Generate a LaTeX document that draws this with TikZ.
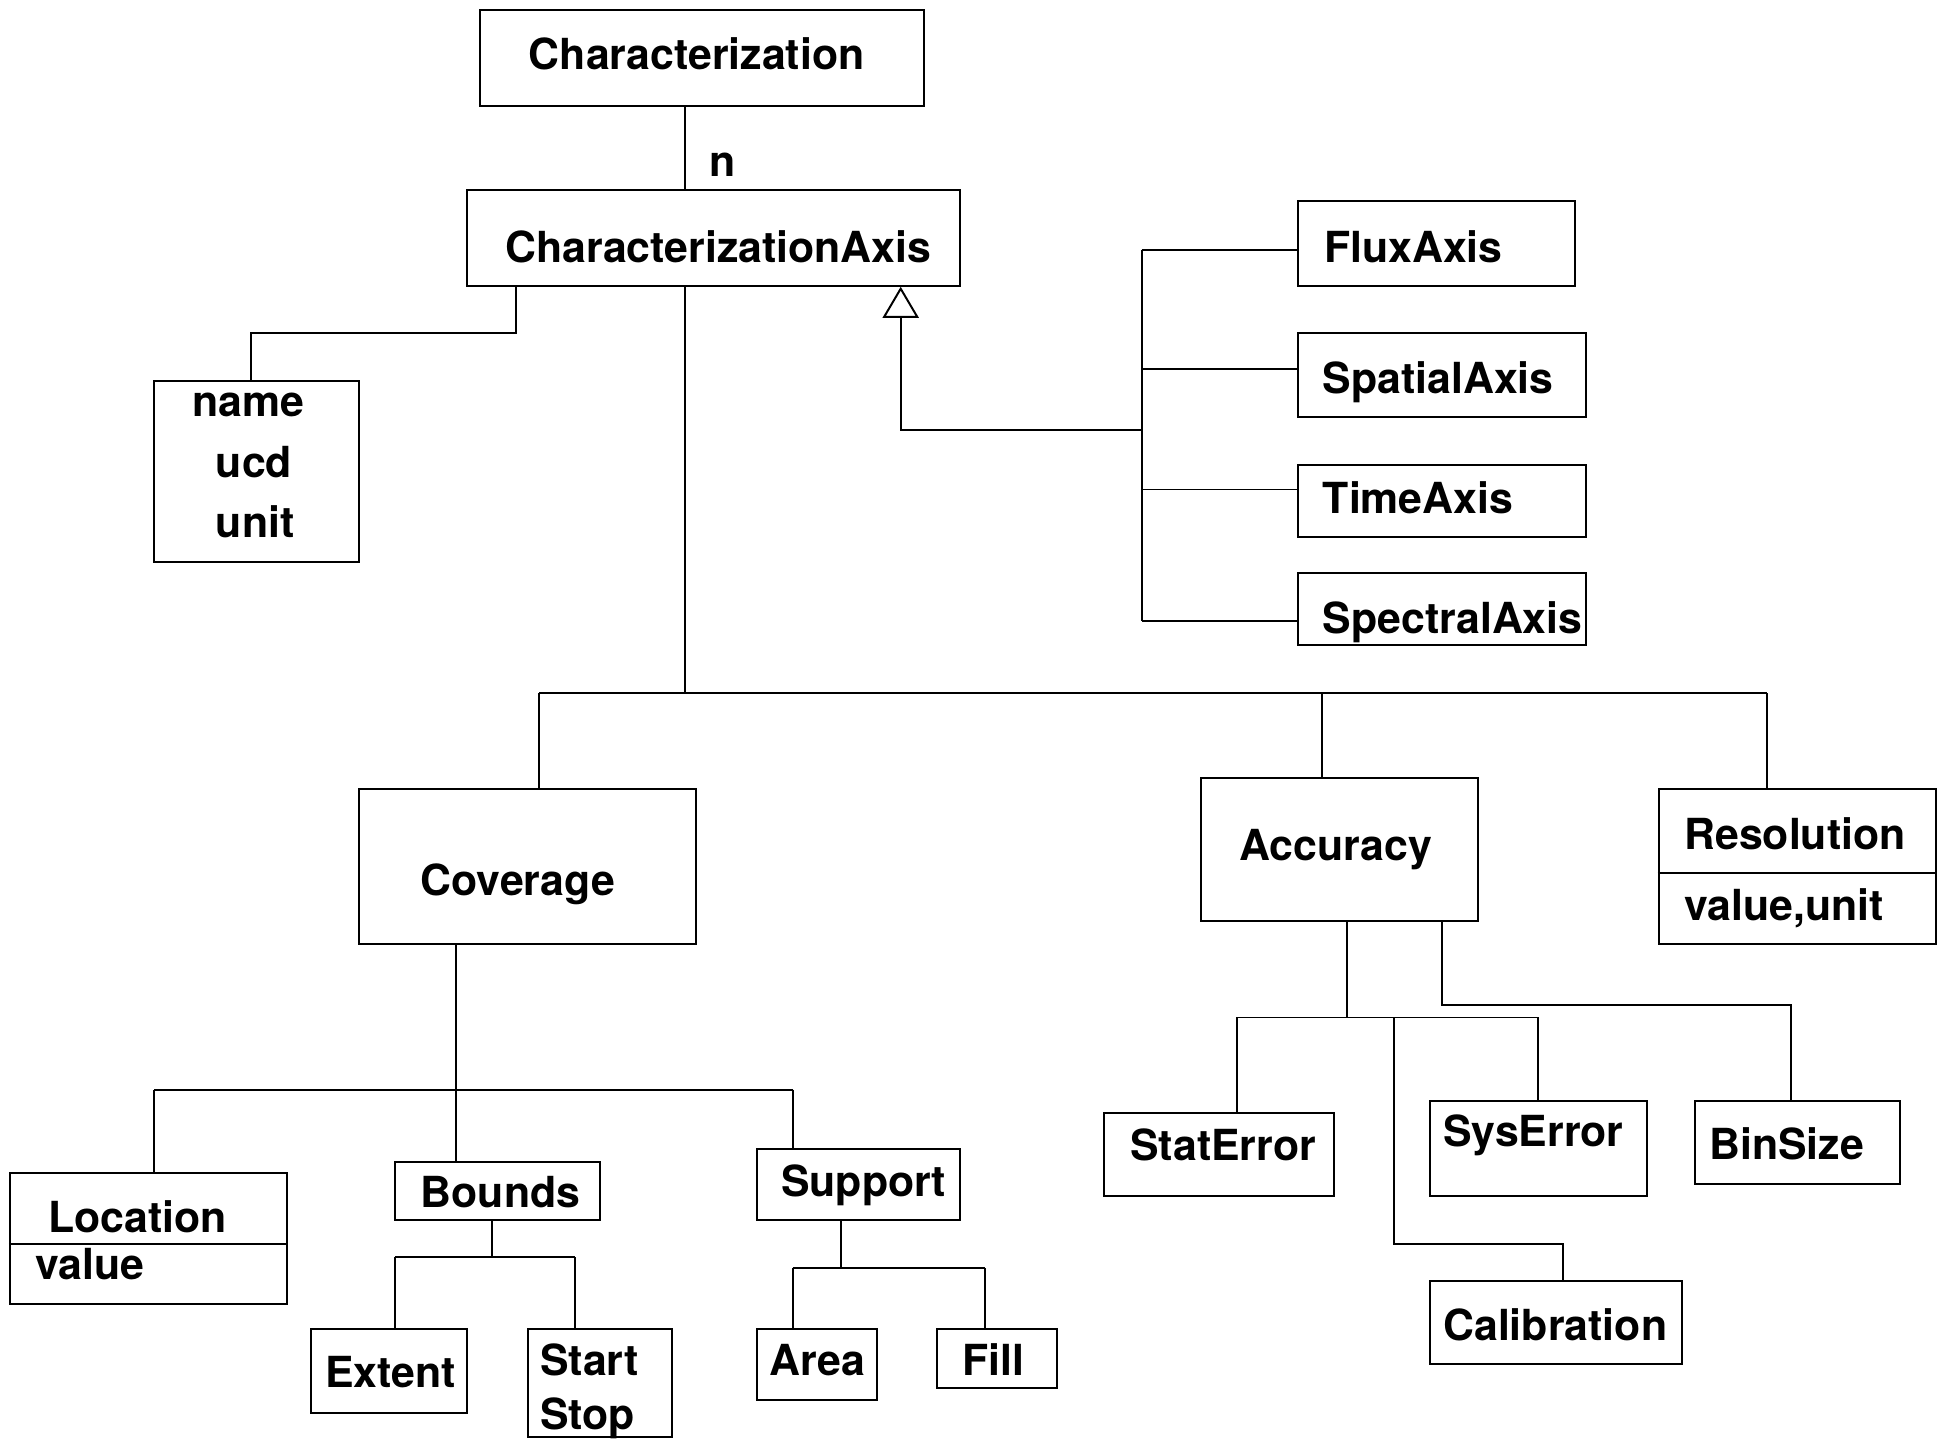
\documentclass[tikz,border=0pt]{standalone}
\usepackage{fontspec}
\setmainfont{TeX Gyre Heros}
\usetikzlibrary{fit,arrows.meta}

\tikzset{
  box/.style={draw, line width=0.45pt, inner sep=0pt},
  lbl/.style={inner sep=0pt, anchor=base west, font=\bfseries\fontsize{9.8}{12}\selectfont},
  inherit/.style={-{Triangle[open,width=2.9mm,length=2.5mm]}}
}

\begin{document}
\begin{tikzpicture}[x=0.01cm,y=-0.01cm,line width=0.45pt]
      \useasboundingbox (0,0) rectangle (1568,1160);

      % Draw the classes
      \node[box, fit={(386,8) (744,85)}] (char) {};
      \node[box, fit={(376,153) (773,230)}] (axis) {};
      \node[box, fit={(124,307) (289,452)}] (attr) {};
      \node[box, fit={(1045,162) (1268,230)}] (flux) {};
      \node[box, fit={(1045,268) (1277,336)}] (spatial) {};
      \node[box, fit={(1045,374) (1277,432)}] (time) {};
      \node[box, fit={(1045,461) (1277,519)}] (spectral) {};
      \node[box, fit={(289,635) (560,760)}] (cov) {};
      \node[box, fit={(967,626) (1190,741)}] (acc) {};
      \node[box, fit={(1335,635) (1558,760)}] (res) {};
      \node[box, fit={(8,944) (231,1050)}] (loc) {};
      \node[box, fit={(318,935) (483,982)}] (bnd) {};
      \node[box, fit={(609,925) (773,982)}] (sup) {};
      \node[box, fit={(250,1070) (376,1137)}] (ext) {};
      \node[box, fit={(425,1070) (541,1157)}] (ss) {};
      \node[box, fit={(609,1070) (706,1127)}] (area) {};
      \node[box, fit={(754,1070) (851,1117)}] (fill) {};
      \node[box, fit={(889,896) (1074,963)}] (stat) {};
      \node[box, fit={(1151,886) (1326,963)}] (sys) {};
      \node[box, fit={(1364,886) (1529,953)}] (bin) {};
      \node[box, fit={(1151,1031) (1354,1098)}] (cal) {};

      % Draw the compartment lines
      \coordinate (locdiv) at (0,1001);
      \coordinate (resdiv) at (0,703);
      \draw (loc.west |- locdiv) -- (loc.east |- locdiv);
      \draw (res.west |- resdiv) -- (res.east |- resdiv);

      % Write the names
      \node[lbl] (charL) at (425,56) {Characterization};
      \node[lbl] (multL) at (570,142) {n};
      \node[lbl] (axisL) at (406,211) {CharacterizationAxis};
      \node[lbl] (nameL) at (154,335) {name};
      \node[lbl] (ucdL) at (173,384) {ucd};
      \node[lbl] (unitL) at (173,433) {unit};
      \node[lbl] (fluxL) at (1065,211) {FluxAxis};
      \node[lbl] (spatialL) at (1064,317) {SpatialAxis};
      \node[lbl] (timeL) at (1064,413) {TimeAxis};
      \node[lbl] (spectralL) at (1064,510) {SpectralAxis};
      \node[lbl] (covL) at (338,721) {Coverage};
      \node[lbl] (accL) at (997,693) {Accuracy};
      \node[lbl] (resL) at (1355,684) {Resolution};
      \node[lbl] (resvalL) at (1355,741) {value,unit};
      \node[lbl] (locL) at (38,992) {Location};
      \node[lbl] (locvalL) at (28,1030) {value};
      \node[lbl] (bndL) at (338,972) {Bounds};
      \node[lbl] (supL) at (628,963) {Support};
      \node[lbl] (extL) at (261,1117) {Extent};
      \node[lbl] (startL) at (434,1107) {Start};
      \node[lbl] (stopL) at (434,1151) {Stop};
      \node[lbl] (areaL) at (619,1107) {Area};
      \node[lbl] (fillL) at (774,1107) {Fill};
      \node[lbl] (statL) at (909,934) {StatError};
      \node[lbl] (sysL) at (1161,923) {SysError};
      \node[lbl] (binL) at (1375,933) {BinSize};
      \node[lbl] (calL) at (1161,1079) {Calibration};

      % Bend points of the connectors
      \coordinate (mainbus) at (551,558);
      \coordinate (covbus) at (434,558);
      \coordinate (accbus) at (1064,558);
      \coordinate (resbus) at (1422,558);
      \coordinate (attA) at (415,268);
      \coordinate (attB) at (202,268);
      \coordinate (genx) at (725,346);
      \coordinate (genbus) at (919,346);
      \coordinate (fluxb) at (919,201);
      \coordinate (spatialb) at (919,297);
      \coordinate (timeb) at (919,394);
      \coordinate (spectralb) at (919,500);
      \coordinate (covjoin) at (367,877);
      \coordinate (locb) at (124,877);
      \coordinate (supb) at (638,877);
      \coordinate (bndjoin) at (396,1012);
      \coordinate (extb) at (318,1012);
      \coordinate (ssb) at (463,1012);
      \coordinate (supjoin) at (677,1021);
      \coordinate (areab) at (638,1021);
      \coordinate (fillb) at (793,1021);
      \coordinate (accjoin) at (1084,819);
      \coordinate (statb) at (996,819);
      \coordinate (sysb) at (1238,819);
      \coordinate (calA) at (1122,819);
      \coordinate (calB) at (1122,1001);
      \coordinate (calC) at (1258,1001);
      \coordinate (binA) at (1161,809);
      \coordinate (binB) at (1442,809);

      % Draw the top part
      \draw (char.south -| mainbus) -- (axis.north -| mainbus);
      \draw (axis.south -| attA) -- (attA) -- (attB) -- (attr.north -| attB);
      \draw (axis.south -| mainbus) -- (mainbus);

      % Draw the generalisation
      \draw[inherit] (genbus) -- (genx) -- (axis.south -| genx);
      \draw (fluxb) -- (spectralb);
      \draw (fluxb) -- (flux.west |- fluxb);
      \draw (spatialb) -- (spatial.west |- spatialb);
      \draw (timeb) -- (time.west |- timeb);
      \draw (spectralb) -- (spectral.west |- spectralb);

      % Draw the main bus
      \draw (covbus) -- (resbus);
      \draw (covbus) -- (cov.north -| covbus);
      \draw (accbus) -- (acc.north -| accbus);
      \draw (resbus) -- (res.north -| resbus);

      % Draw the coverage part
      \draw (cov.south -| covjoin) -- (covjoin);
      \draw (locb) -- (supb);
      \draw (locb) -- (loc.north -| locb);
      \draw (covjoin) -- (bnd.north -| covjoin);
      \draw (supb) -- (sup.north -| supb);
      \draw (bnd.south -| bndjoin) -- (bndjoin);
      \draw (extb) -- (ssb);
      \draw (extb) -- (ext.north -| extb);
      \draw (ssb) -- (ss.north -| ssb);
      \draw (sup.south -| supjoin) -- (supjoin);
      \draw (areab) -- (fillb);
      \draw (areab) -- (area.north -| areab);
      \draw (fillb) -- (fill.north -| fillb);

      % Draw the accuracy part
      \draw (acc.south -| accjoin) -- (accjoin);
      \draw (statb) -- (sysb);
      \draw (statb) -- (stat.north -| statb);
      \draw (sysb) -- (sys.north -| sysb);
      \draw (calA) -- (calB) -- (calC) -- (cal.north -| calC);
      \draw (acc.south -| binA) -- (binA) -- (binB) -- (bin.north -| binB);
\end{tikzpicture}
\end{document}
